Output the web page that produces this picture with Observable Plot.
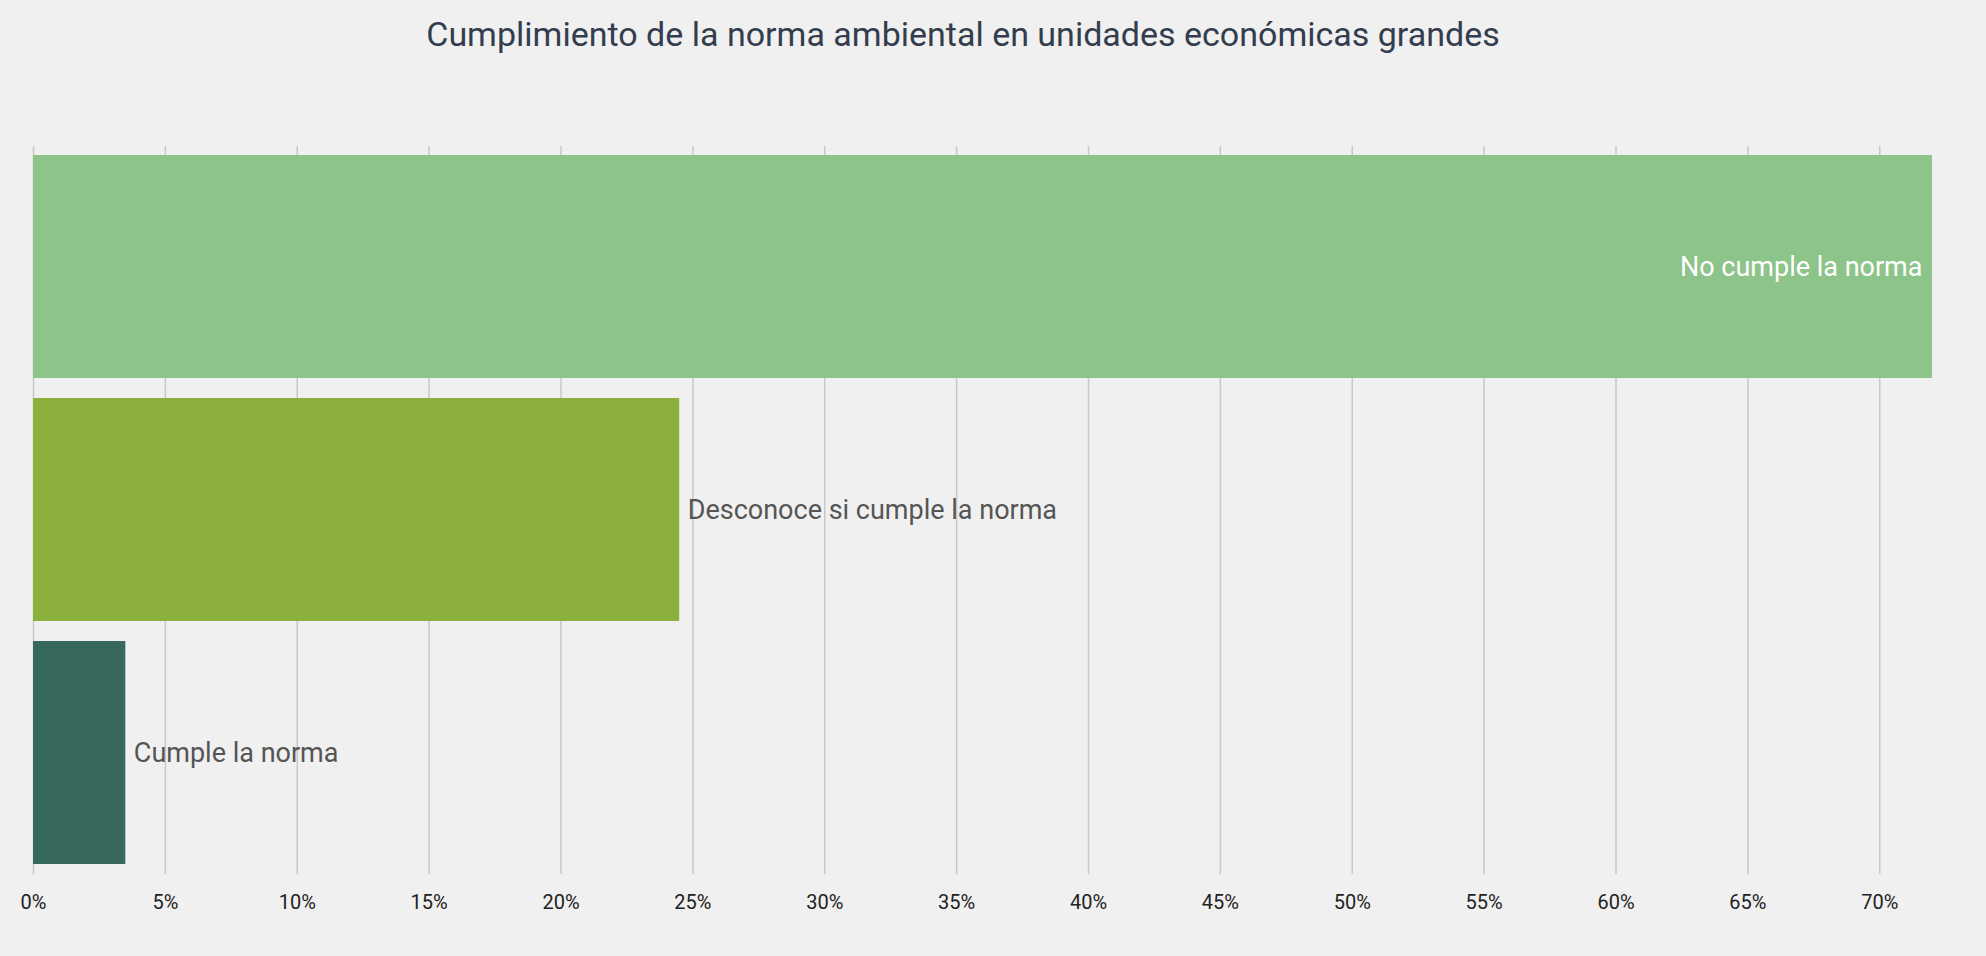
<!DOCTYPE html>
<html><head><meta charset="utf-8">
<script src="https://cdn.jsdelivr.net/npm/d3@7"></script>
<script src="https://cdn.jsdelivr.net/npm/@observablehq/plot@0.6"></script>
<style>
body{margin:0;background:#f0f0f0;font-family:"Liberation Sans Narrow","Roboto","Noto Sans",sans-serif;}
#title{height:100px;box-sizing:border-box;padding-top:14px;text-align:center;font-size:34px;color:#333d4d;padding-right:60px;}
</style></head><body>
<div id="title">Cumplimiento de la norma ambiental en unidades económicas grandes</div>
<div id="chart"></div>
<script>
const categories = ["No cumple la norma","Desconoce si cumple la norma","Cumple la norma"];
const values = [72.0, 24.5, 3.5];
const colors = ["#8dc489","#8bb13c","#36685c"];
const ticks = d3.range(0, 71, 5);
const data = categories.map((c,i)=>({c, v: values[i], col: colors[i], inside: i===0}));
const chart = Plot.plot({
  width: 1986, height: 856,
  marginLeft: 33, marginRight: 54, marginTop: 46, marginBottom: 82,
  style: {background: "#f0f0f0", fontFamily: "Liberation Sans Narrow, Roboto, sans-serif"},
  x: {domain: [0, 72.0], ticks, tickFormat: d => d + "%", label: null},
  y: {domain: categories, range: [54.5, 764], paddingInner: 0.082, paddingOuter: 0, axis: null},
  marks: [
    Plot.gridX(ticks, {stroke: "#c8c8c8", strokeOpacity: 1, strokeWidth: 1.5}),
    Plot.barX(data, {x: "v", y: "c", fill: "col"}),
    Plot.text(data.filter(d=>d.inside), {x: "v", y: "c", text: "c", textAnchor: "end", dx: -10, fill: "white", fontSize: 27}),
    Plot.text(data.filter(d=>!d.inside), {x: "v", y: "c", text: "c", textAnchor: "start", dx: 8, fill: "#555", fontSize: 27}),
    Plot.axisX({ticks, tickFormat: d => d + "%", tickSize: 0, tickPadding: 20, fontSize: 20, color: "#222", label: null})
  ]
});
document.getElementById("chart").append(chart);
</script>
</body></html>
